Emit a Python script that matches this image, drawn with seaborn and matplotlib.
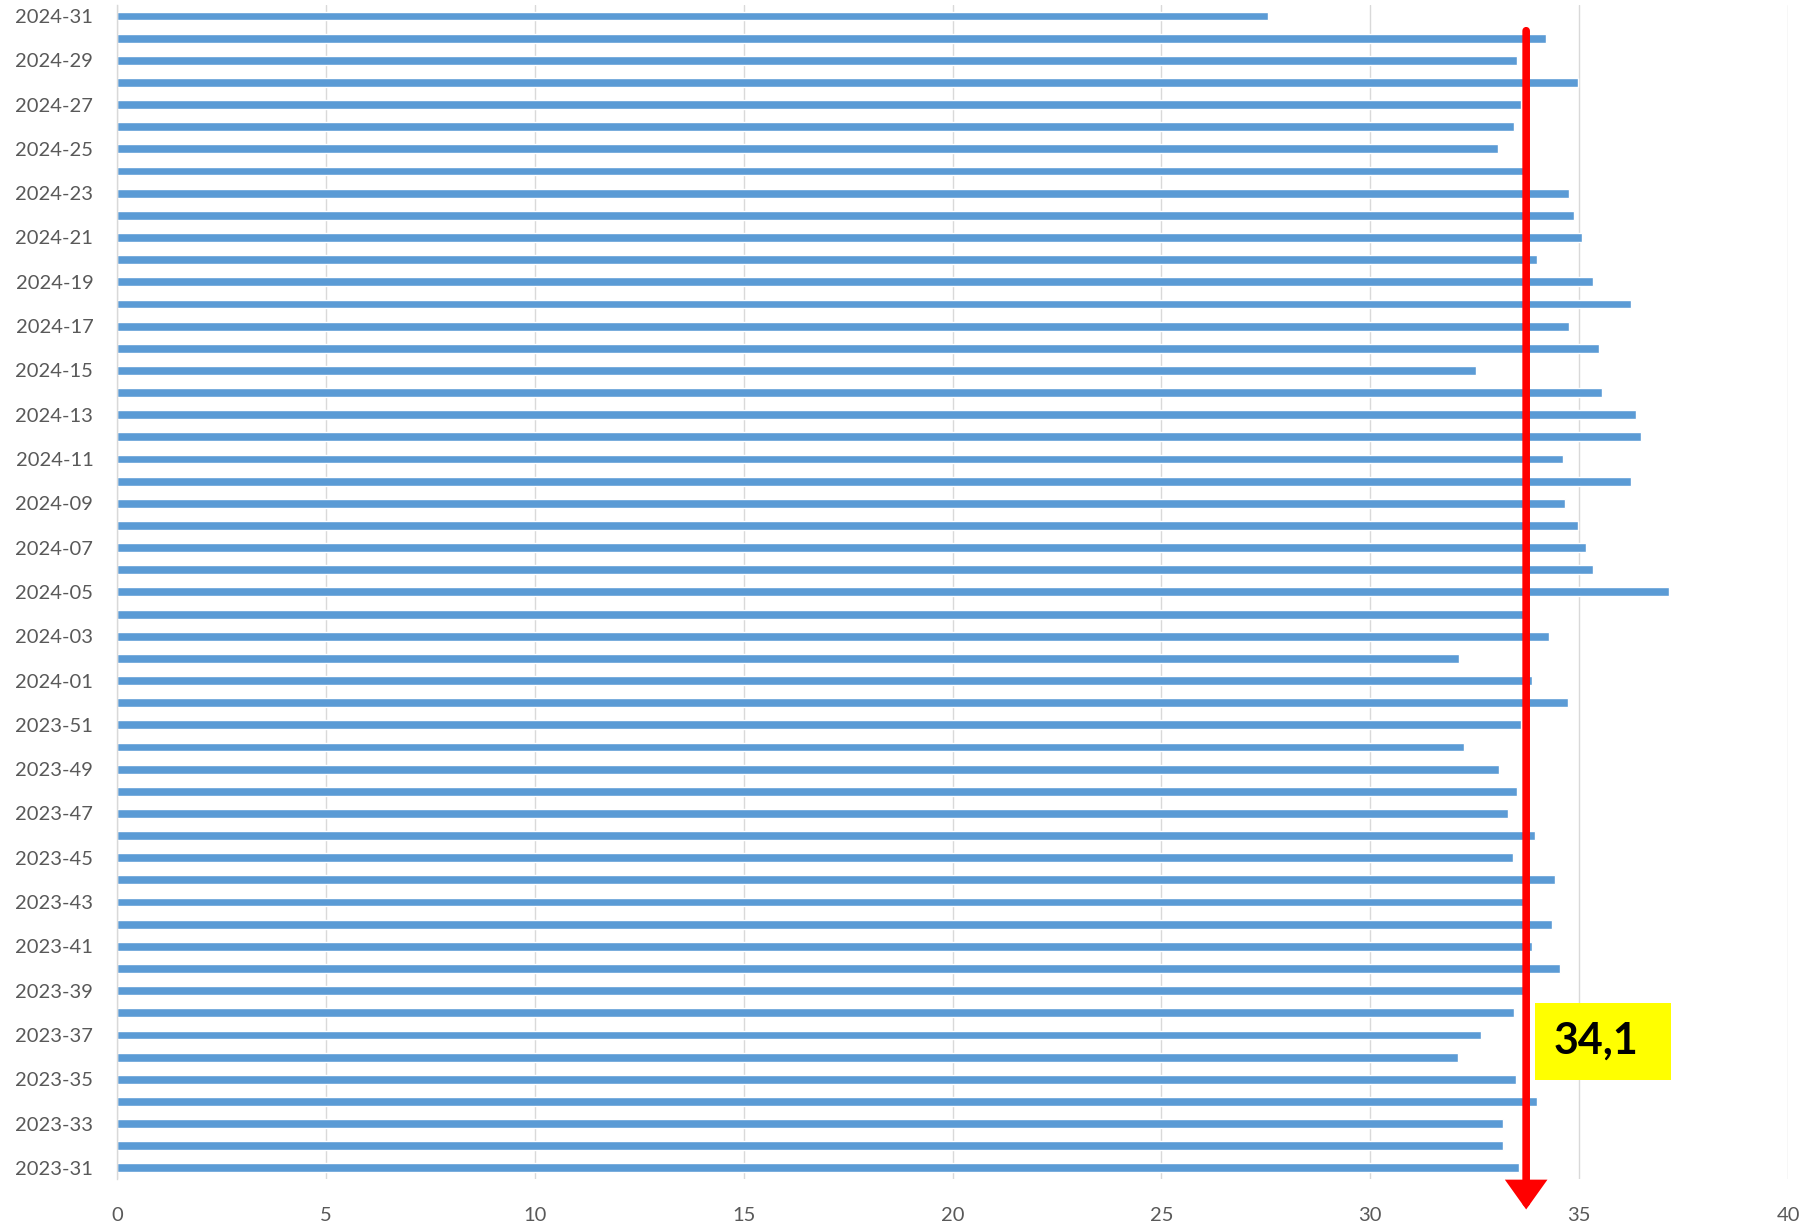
import matplotlib
matplotlib.use("Agg")
import matplotlib.pyplot as plt
import seaborn as sns
from matplotlib.patches import Rectangle

# weekly values, top (2024-31) to bottom (2023-31)
weeks = [f"2024-{w:02d}" for w in range(31, 0, -1)] + [f"2023-{w}" for w in range(52, 30, -1)]
values_2024 = [27.55, 34.20, 33.50, 34.98, 33.61, 33.43, 33.06, 33.74, 34.76, 34.87,
               35.07, 33.98, 35.32, 36.23, 34.75, 35.47, 32.52, 35.54, 36.36, 36.48,
               34.62, 36.25, 34.67, 34.98, 35.17, 35.34, 37.14, 33.74, 34.28, 32.12,
               33.88]
values_2023 = [34.72, 33.61, 32.25, 33.09, 33.52, 33.29, 33.93, 33.41, 34.43, 33.74,
               34.36, 33.86, 34.55, 33.74, 33.43, 32.64, 32.09, 33.48, 34.00, 33.17,
               33.18, 33.56]
values = values_2024 + values_2023
ref_line = 33.73
ref_label = "34,1"
xticks = list(range(0, 41, 5))

sns.set_style("white")
plt.rcParams["font.family"] = ["Lato", "DejaVu Sans"]

fig = plt.figure(figsize=(18.08, 12.24), dpi=100)
ax = fig.add_axes([0.0647, 0.0368, 0.9243, 0.9592])

sns.barplot(x=values, y=weeks, orient="h", color="#5B9BD5", saturation=1,
            width=0.4, ax=ax)

ax.set_xlim(0, 40)
ax.set_ylim(len(weeks) - 0.5, -0.5)
ax.set_xticks(xticks)
ax.set_yticks(range(len(weeks)))
ax.set_yticklabels([w if i % 2 == 0 else "" for i, w in enumerate(weeks)])
ax.set_xlabel("")
ax.set_ylabel("")
ax.grid(axis="x", color="#D9D9D9", linewidth=1.0)
ax.set_axisbelow(True)
for s in ["top", "right", "bottom"]:
    ax.spines[s].set_visible(False)
ax.spines["left"].set_color("#D9D9D9")
ax.spines["left"].set_linewidth(1.0)
ax.tick_params(axis="y", length=0, pad=17, labelsize=14.5, labelcolor="#595959")
ax.tick_params(axis="x", length=0, pad=20, labelsize=14.5, labelcolor="#595959")

# red reference arrow
trans = ax.get_xaxis_transform()
ax.annotate("", xy=(ref_line, -0.026), xytext=(ref_line, 0.978),
            xycoords=trans, textcoords=trans, annotation_clip=False,
            arrowprops=dict(arrowstyle="-|>,head_length=0.7,head_width=0.5",
                            color="#FF0000", lw=5.5, mutation_scale=20,
                            shrinkA=0, shrinkB=0, joinstyle="miter"))

# yellow label box
fig.patches.append(Rectangle((0.849, 0.1176), 0.0752, 0.0629, transform=fig.transFigure,
                             facecolor="#FFFF00", edgecolor="none", zorder=5))
fig.text(0.883, 0.1495, ref_label, ha="center", va="center", fontsize=31,
         fontweight="bold", color="black", zorder=6)

fig.savefig("out.png", dpi=100)
